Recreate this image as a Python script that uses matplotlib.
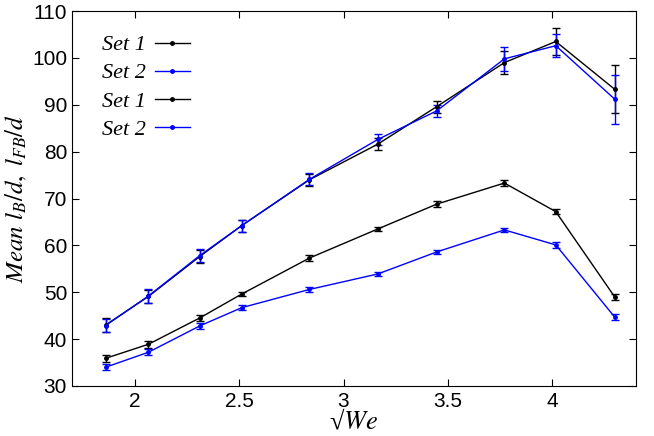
import matplotlib
matplotlib.use('Agg')
import matplotlib.pyplot as plt

# sqrt(We) positions
sqrt_we = [1.861, 2.066, 2.311, 2.512, 2.837, 3.164, 3.446, 3.770, 4.016, 4.298]

# upper curves (l_B/d)
set1_upper = [43.0, 49.1, 57.6, 64.2, 74.0, 81.6, 89.6, 99.0, 103.5, 93.3]
set1_upper_err = [1.4, 1.4, 1.4, 1.3, 1.3, 1.35, 1.3, 2.5, 2.9, 5.1]
set2_upper = [42.9, 49.2, 57.8, 64.2, 74.1, 82.6, 88.7, 99.8, 102.6, 91.2]
set2_upper_err = [1.4, 1.4, 1.4, 1.3, 1.3, 1.1, 1.35, 2.6, 2.5, 5.2]

# lower curves (l_FB/d)
set1_lower = [35.9, 38.9, 44.5, 49.6, 57.3, 63.5, 68.8, 73.3, 67.2, 49.0]
set1_lower_err = [0.7, 0.7, 0.7, 0.5, 0.6, 0.5, 0.6, 0.6, 0.6, 0.7]
set2_lower = [34.0, 37.2, 42.8, 46.7, 50.6, 53.9, 58.6, 63.3, 60.1, 44.7]
set2_lower_err = [0.6, 0.6, 0.6, 0.5, 0.5, 0.5, 0.5, 0.5, 0.6, 0.6]

labels = ['Set 1', 'Set 2', 'Set 1', 'Set 2']

plt.rcParams['mathtext.fontset'] = 'stix'
plt.rcParams['font.family'] = 'Liberation Sans'

fig = plt.figure(figsize=(6.54, 4.36), dpi=100)
ax = fig.add_axes([0.110, 0.1147, 0.8625, 0.860])

series = [
    (set1_upper, set1_upper_err, 'black', labels[0]),
    (set2_upper, set2_upper_err, '#0000ff', labels[1]),
    (set1_lower, set1_lower_err, 'black', labels[2]),
    (set2_lower, set2_lower_err, '#0000ff', labels[3]),
]
handles = []
for vals, errs, col, lab in series:
    c = ax.errorbar(sqrt_we, vals, yerr=errs, color=col, lw=1.0, marker='o',
                    ms=2.5, capsize=3, elinewidth=1.0, capthick=1.0, label=lab)
    handles.append(c[0])

ax.set_xlim(1.7, 4.4)
ax.set_ylim(30, 110)
ax.set_xticks([2, 2.5, 3, 3.5, 4])
ax.set_xticklabels(['2', '2.5', '3', '3.5', '4'])
ax.set_yticks(range(30, 111, 10))
ax.tick_params(direction='in', top=True, right=True, labelsize=15, length=5)
ax.tick_params(axis='x', pad=4)

ax.set_xlabel('\u221a$We$', fontsize=19, labelpad=-1,
              family=['Liberation Serif', 'DejaVu Serif'])
ax.set_ylabel(r'$Mean\ l_B/d,\ l_{FB}/d$', fontsize=18, labelpad=2)

leg = ax.legend(handles, labels, loc='upper left', bbox_to_anchor=(0.0175, 0.99),
                frameon=False, markerfirst=False, handlelength=1.6,
                handletextpad=0.4, labelspacing=0.34,
                prop={'family': 'Liberation Serif', 'style': 'italic', 'size': 16})

fig.savefig('out.png', dpi=100)
